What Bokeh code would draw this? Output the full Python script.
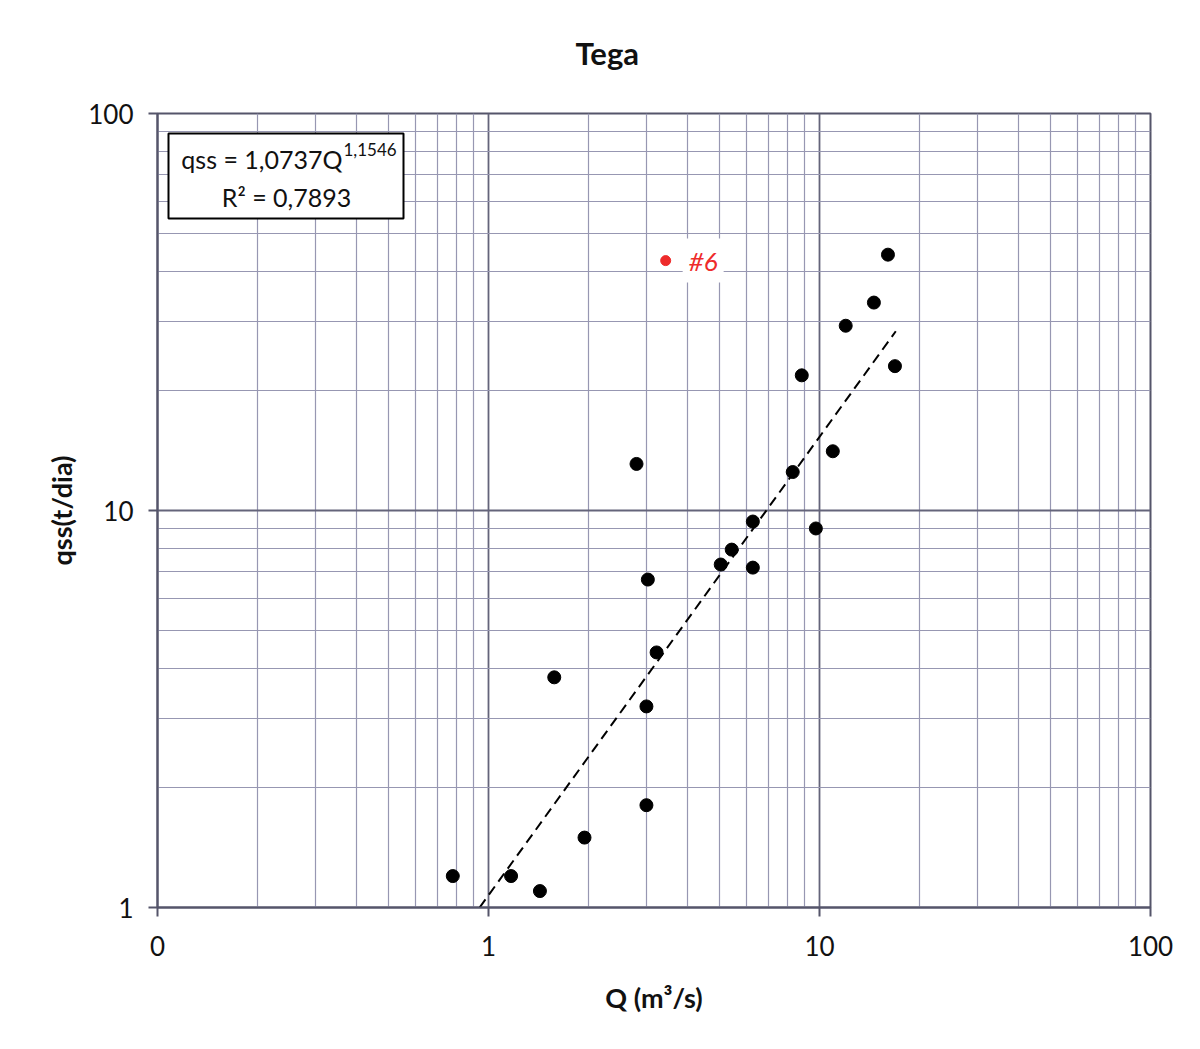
import math
from bokeh.plotting import figure
from bokeh.models import FixedTicker, Label, BoxAnnotation, ColumnDataSource, Title
from bokeh.embed import file_html
from bokeh.resources import INLINE

# ---- data ----
Q = [0.78, 1.17, 1.43, 1.95, 1.58, 2.80, 3.03, 3.22, 3.00, 3.00, 5.03, 5.43,
     6.29, 6.29, 8.30, 9.75, 8.84, 10.97, 12.0, 14.6, 16.1, 16.9]
qss = [1.20, 1.20, 1.10, 1.50, 3.80, 13.1, 6.70, 4.39, 3.21, 1.81, 7.31, 7.97,
       9.38, 7.18, 12.5, 9.01, 21.9, 14.1, 29.2, 33.4, 44.1, 23.1]
outlier_Q = [3.43]
outlier_qss = [42.6]
outlier_label = "#6"
fit_a = 1.0737
fit_b = 1.1546
fit_Q_range = [0.94, 17.0]
x_ticks = [0.1, 1, 10, 100]
x_tick_labels = ["0", "1", "10", "100"]
y_ticks = [1, 10, 100]
y_tick_labels = ["1", "10", "100"]
title_text = "Tega"
x_label = "Q (m³/s)"
y_label = "qss(t/dia)"
eq_text = "qss = 1,0737Q"
eq_sup = "1,1546"
r2_text = "R² = 0,7893"

FONT = "Lato"

# layout (screen pixels)
FL, FR, FT, FB = 157, 1150, 113, 907
W, H = 1184, 1033

def px_to_x(px):
    return 10 ** (-1 + 3 * (px - FL) / (FR - FL))

def py_to_y(py):
    return 10 ** (2 * (FB - py) / (FB - FT))

p = figure(width=W, height=H, x_axis_type="log", y_axis_type="log",
           x_range=(0.1, 100), y_range=(1, 100),
           output_backend="svg", toolbar_location=None,
           min_border_left=FL, min_border_right=W - FR,
           min_border_top=FT, min_border_bottom=H - FB)

p.background_fill_color = "white"
p.border_fill_color = "white"
p.outline_line_color = "#55556a"
p.outline_line_width = 2

# title
p.title.text = title_text
p.title.text_font = FONT
p.title.text_font_size = "31px"
p.title.text_font_style = "bold"
p.title.text_color = "#111111"
p.title.align = "left"
p.title.offset = 575 - FL
# empty spacer between title and frame, lifts the title
spacer = Title(text=" ", text_font_size="22px")
p.above = [spacer] + list(p.above)

minor_x = [m * 10 ** e for e in (-1, 0, 1) for m in range(2, 10)]
minor_y = [m * 10 ** e for e in (0, 1) for m in range(2, 10)]
p.xaxis.ticker = FixedTicker(ticks=x_ticks, minor_ticks=minor_x)
p.yaxis.ticker = FixedTicker(ticks=y_ticks, minor_ticks=minor_y)
p.xaxis.major_label_overrides = {t: l for t, l in zip(x_ticks, x_tick_labels)}
p.yaxis.major_label_overrides = {t: l for t, l in zip(y_ticks, y_tick_labels)}

for ax in (p.xaxis, p.yaxis):
    ax.axis_line_color = "#55556a"
    ax.axis_line_width = 2
    ax.major_tick_line_color = "#55556a"
    ax.major_tick_line_width = 2
    ax.major_tick_in = 0
    ax.major_tick_out = 9
    ax.minor_tick_line_color = None
    ax.major_label_text_font = FONT
    ax.major_label_text_font_size = "26px"
    ax.major_label_text_color = "#111111"
    ax.axis_label_text_font = FONT
    ax.axis_label_text_font_size = "27px"
    ax.axis_label_text_font_style = "bold"
    ax.axis_label_text_color = "#111111"

p.xaxis.axis_label = x_label
p.yaxis.axis_label = y_label
p.xaxis.major_label_standoff = 19
p.xaxis.axis_label_standoff = 22
p.yaxis.major_label_standoff = 15
p.yaxis.axis_label_standoff = 7

for g in (p.xgrid, p.ygrid):
    g.grid_line_color = "#64647a"
    g.grid_line_width = 1.8
    g.minor_grid_line_color = "#9797b2"
    g.minor_grid_line_width = 1.2

# trend line
fit_y = [fit_a * q ** fit_b for q in fit_Q_range]
p.line(fit_Q_range, fit_y, line_color="black", line_width=2, line_dash="10 6")

# points
src = ColumnDataSource(dict(Q=Q, qss=qss))
p.scatter("Q", "qss", source=src, size=13, fill_color="black", line_color="black")

p.scatter(outlier_Q, outlier_qss, size=10, fill_color="#ee2b2b", line_color="#ee2b2b")
p.add_layout(Label(x=outlier_Q[0], y=outlier_qss[0], text=outlier_label,
                   x_offset=17, y_offset=0, text_baseline="middle",
                   text_font=FONT, text_font_size="26px", text_font_style="italic",
                   text_color="#ee2b2b", background_fill_color="white",
                   padding=6))

# equation box
p.add_layout(BoxAnnotation(left=px_to_x(168), right=px_to_x(403),
                           top=py_to_y(133), bottom=py_to_y(218),
                           fill_color="white", fill_alpha=1.0,
                           line_color="black", line_alpha=1.0, line_width=2,
                           level="annotation"))
p.add_layout(Label(x=px_to_x(342), y=py_to_y(158), text=eq_text,
                   text_align="right", text_baseline="alphabetic",
                   text_font=FONT, text_font_size="25px", text_color="#111111"))
p.add_layout(Label(x=px_to_x(343), y=py_to_y(149), text=eq_sup,
                   text_align="left", text_baseline="alphabetic",
                   text_font=FONT, text_font_size="17px", text_color="#111111"))
p.add_layout(Label(x=px_to_x(286), y=py_to_y(196), text=r2_text,
                   text_align="center", text_baseline="alphabetic",
                   text_font=FONT, text_font_size="25px", text_color="#111111"))

open("out.html", "w").write(file_html(p, INLINE))
